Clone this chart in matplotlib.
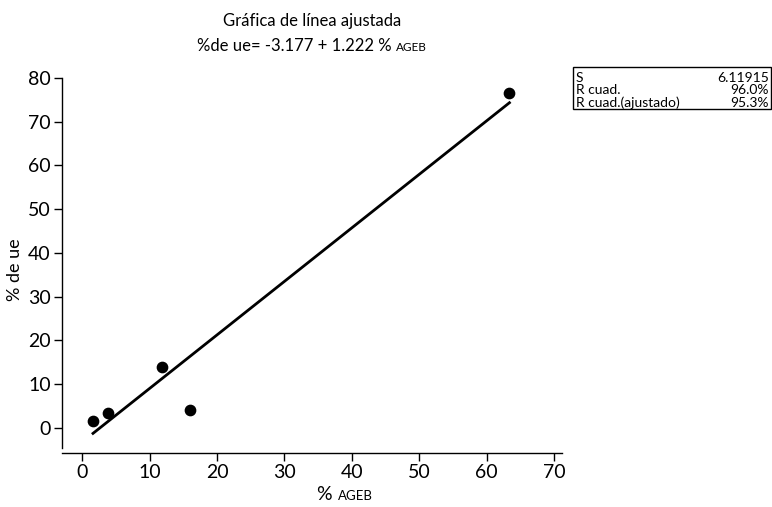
import numpy as np
import matplotlib.pyplot as plt
from matplotlib.patches import Rectangle

plt.rcParams["font.family"] = ["Lato", "DejaVu Sans"]

# data
pct_ageb = [1.6, 3.9, 11.8, 16.0, 63.4]
pct_ue = [1.7, 3.5, 13.9, 4.1, 76.6]
intercept = -3.177
slope = 1.222

stat_names = ["S", "R cuad.", "R cuad.(ajustado)"]
stat_values = ["6.11915", "96.0%", "95.3%"]

x_ticks = [0, 10, 20, 30, 40, 50, 60, 70]
y_ticks = [0, 10, 20, 30, 40, 50, 60, 70, 80]

W, H = 772, 507
fig = plt.figure(figsize=(W / 100, H / 100), dpi=100)
ax = fig.add_axes([62 / W, 1 - 453 / H, 500 / W, (453 - 69) / H])

ax.scatter(pct_ageb, pct_ue, s=55, color="black", zorder=3)
xfit = np.array([min(pct_ageb), max(pct_ageb)])
ax.plot(xfit, intercept + slope * xfit, color="black", lw=2)

ax.set_xlim(-3, 71.2)
ax.set_ylim(-5.7, 82)
ax.set_xticks(x_ticks)
ax.set_yticks(y_ticks)
for s in ["top", "right"]:
    ax.spines[s].set_visible(False)
ax.spines["left"].set_bounds(-4.6, 80)
ax.spines["left"].set_linewidth(1.0)
ax.spines["bottom"].set_linewidth(1.0)
ax.tick_params(labelsize=14, length=6, width=1, pad=2)

fig.canvas.draw()
rend = fig.canvas.get_renderer()


def mixed_text(parts, cx, cy):
    """place (text, size) pieces side by side, centred at (cx, cy) px"""
    widths = []
    for txt, size in parts:
        t = fig.text(0, 0, txt, fontsize=size)
        widths.append(t.get_window_extent(rend).width)
        t.remove()
    x = cx - sum(widths) / 2
    for (txt, size), w in zip(parts, widths):
        fig.text(x / W, 1 - cy / H, txt, fontsize=size, va="baseline", ha="left")
        x += w


fig.text(312 / W, 1 - 26 / H, "Gráfica de línea ajustada", fontsize=12,
         ha="center", va="baseline")
mixed_text([("%de ue= -3.177 + 1.222 % ", 12), ("AGEB", 8.5)], 312, 51)
mixed_text([("% ", 14), ("AGEB", 9.5)], 345, 500)
fig.text(15 / W, 1 - 270 / H, "% de ue", fontsize=13, rotation=90,
         ha="center", va="center")

# summary box
fig.add_artist(Rectangle((573 / W, 1 - 109 / H), 198 / W, 42 / H,
                         transform=fig.transFigure, fill=False, lw=1,
                         edgecolor="black"))
for i, (name, val) in enumerate(zip(stat_names, stat_values)):
    yy = 1 - (78 + 12.5 * i) / H
    fig.text(576 / W, yy, name, fontsize=10, va="center", ha="left")
    fig.text(769 / W, yy, val, fontsize=10, va="center", ha="right")

fig.savefig("out.png", dpi=100)
